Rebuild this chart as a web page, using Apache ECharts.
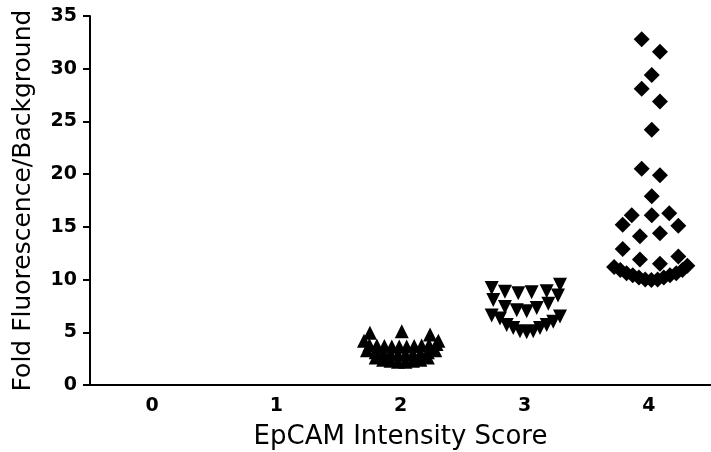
<!DOCTYPE html>
<html>
<head>
<meta charset="utf-8">
<script src="https://cdn.jsdelivr.net/npm/echarts@6/dist/echarts.min.js"></script>
<style>html,body{margin:0;padding:0;background:#fff;}#c{width:711px;height:452px;}</style>
</head>
<body>
<div id="c"></div>
<script>
// Category labels (EpCAM intensity score)
const categories = ['0', '1', '2', '3', '4'];
const yTicks = [0, 5, 10, 15, 20, 25, 30, 35];

// Score 2 (up triangles): horizontal jitter offsets and values
const score2Offsets = [-0.246, -0.294, 0.01, 0.238, 0.305,
  -0.25, -0.19, -0.13, -0.07, -0.01, 0.05, 0.11, 0.17, 0.23, 0.29,
  -0.27, -0.2, -0.14, -0.08, -0.02, 0.04, 0.1, 0.16, 0.22, 0.28,
  -0.2, -0.14, -0.08, -0.02, 0.04, 0.1, 0.16, 0.22];
const score2Values = [4.96, 4.2, 5.1, 4.8, 4.2,
  3.8, 3.75, 3.7, 3.65, 3.65, 3.65, 3.7, 3.75, 3.8, 3.9,
  3.3, 3.1, 3.0, 2.95, 2.9, 2.9, 2.95, 3.0, 3.1, 3.3,
  2.6, 2.4, 2.3, 2.2, 2.2, 2.3, 2.4, 2.6];

// Score 3 (down triangles)
const score3Offsets = [-0.266, -0.159, -0.052, 0.056, 0.177, 0.284, 0.268,
  -0.253, -0.159, -0.064, 0.016, 0.097, 0.19,
  -0.266, -0.199, -0.145, -0.092, -0.038, 0.016, 0.069, 0.123, 0.177, 0.23, 0.284];
const score3Values = [9.2, 8.85, 8.7, 8.8, 8.9, 9.5, 8.5,
  8.06, 7.4, 7.1, 7.0, 7.3, 7.7,
  6.6, 6.3, 5.7, 5.4, 5.1, 5.0, 5.1, 5.4, 5.7, 6.0, 6.5];

// Score 4 (diamonds)
const score4Offsets = [-0.058, 0.089, 0.023, -0.058, 0.089, 0.023, -0.058, 0.089, 0.023,
  -0.138, 0.023, 0.164, -0.211, 0.237, -0.072, 0.089, -0.211, -0.072, 0.089, 0.237,
  -0.28, -0.23, -0.18, -0.13, -0.08, -0.03, 0.02, 0.07, 0.12, 0.17, 0.22, 0.27, 0.31];
const score4Values = [32.8, 31.6, 29.4, 28.1, 26.9, 24.2, 20.5, 19.9, 17.9,
  16.1, 16.1, 16.3, 15.2, 15.1, 14.1, 14.4, 12.9, 11.9, 11.5, 12.2,
  11.2, 10.9, 10.6, 10.4, 10.2, 10.0, 9.95, 10.0, 10.2, 10.4, 10.6, 10.9, 11.3];

function build(cat, offs, vals) {
  return offs.map((o, i) => [cat + o, vals[i]]);
}

const FONT = 'DejaVu Sans';
const chart = echarts.init(document.getElementById('c'));
chart.setOption({
  backgroundColor: '#ffffff',
  animation: false,
  grid: { left: 90, right: 0, top: 16, bottom: 67, outerBoundsMode: 'none' },
  xAxis: {
    type: 'value', min: -0.5, max: 4.5,
    name: 'EpCAM Intensity Score', nameLocation: 'middle', nameGap: 39,
    nameTextStyle: { fontFamily: FONT, fontSize: 26, color: '#000' },
    axisLine: { show: true, onZero: false, lineStyle: { color: '#000', width: 2 } },
    axisTick: { show: false },
    splitLine: { show: false },
    axisLabel: {
      customValues: [0, 1, 2, 3, 4],
      formatter: v => categories[Math.round(v)],
      fontFamily: FONT, fontWeight: 'bold', fontSize: 19, color: '#000', margin: 12
    }
  },
  yAxis: {
    type: 'value', min: 0, max: 35, interval: 5,
    name: 'Fold Fluorescence/Background', nameLocation: 'middle', nameGap: 54,
    nameTextStyle: { fontFamily: FONT, fontSize: 25, color: '#000' },
    axisLine: { show: true, onZero: false, lineStyle: { color: '#000', width: 2 } },
    axisTick: { show: true, length: 7, lineStyle: { color: '#000', width: 2 } },
    splitLine: { show: false },
    axisLabel: {
      formatter: v => (yTicks.indexOf(v) >= 0 ? String(v) : ''),
      fontFamily: FONT, fontWeight: 'bold', fontSize: 19, color: '#000', margin: 13
    }
  },
  series: [
    { type: 'scatter', symbol: 'triangle', symbolSize: 14, itemStyle: { color: '#000', opacity: 1 },
      data: build(2, score2Offsets, score2Values) },
    { type: 'scatter', symbol: 'triangle', symbolRotate: 180, symbolSize: 14, itemStyle: { color: '#000', opacity: 1 },
      data: build(3, score3Offsets, score3Values) },
    { type: 'scatter', symbol: 'diamond', symbolSize: 16, itemStyle: { color: '#000', opacity: 1 },
      data: build(4, score4Offsets, score4Values) }
  ]
});
</script>
</body>
</html>
